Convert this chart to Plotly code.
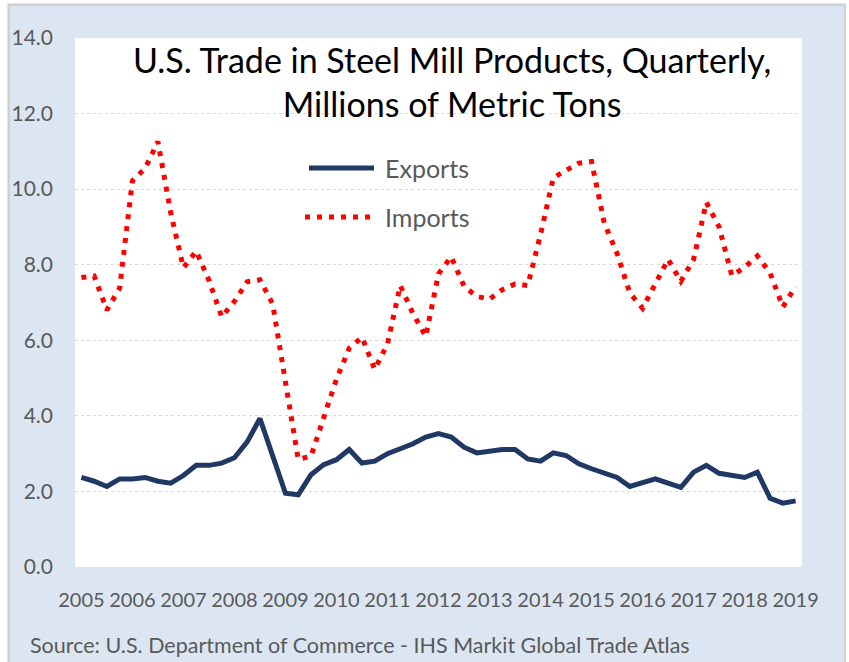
import plotly.graph_objects as go

# Quarterly, 2005 Q1 .. 2019 Q1 (57 quarters), millions of metric tons
years = list(range(2005, 2020))
quarters = [f"{y} Q{q}" for y in years for q in range(1, 5)][:57]

exports = [2.37, 2.27, 2.13, 2.33, 2.33, 2.37, 2.27, 2.22, 2.42, 2.69,
           2.69, 2.75, 2.89, 3.31, 3.93, 2.95, 1.95, 1.91, 2.44, 2.71,
           2.84, 3.11, 2.75, 2.80, 3.00, 3.13, 3.26, 3.44, 3.53, 3.44,
           3.17, 3.02, 3.08, 3.11, 3.11, 2.86, 2.80, 3.02, 2.95, 2.73,
           2.60, 2.48, 2.37, 2.13, 2.24, 2.33, 2.22, 2.11, 2.51, 2.69,
           2.48, 2.44, 2.37, 2.51, 1.82, 1.69, 1.75]

imports = [7.66, 7.70, 6.80, 7.38, 10.22, 10.55, 11.26, 9.38, 7.92, 8.36,
           7.59, 6.62, 7.03, 7.55, 7.60, 6.96, 4.90, 2.85, 2.93, 3.93,
           4.97, 5.79, 6.08, 5.23, 5.90, 7.45, 6.71, 6.10, 7.76, 8.21,
           7.43, 7.16, 7.09, 7.34, 7.49, 7.45, 8.80, 10.30, 10.50, 10.69,
           10.73, 9.10, 8.30, 7.25, 6.85, 7.47, 8.14, 7.56, 8.14, 9.65,
           9.00, 7.71, 7.93, 8.23, 7.78, 6.88, 7.43]

year_ticks = [str(y) for y in years]
y_ticks = [0, 2, 4, 6, 8, 10, 12, 14]

NAVY = "#1F3864"
RED = "#FF0000"
GREY_TXT = "#595959"
BG = "#DCE6F2"
FONT = "Lato"

# plot area in pixels (849 x 662 canvas)
L, R, T, B = 75, 802, 38, 567
W, H = 849, 662


def px_x(px):
    return (px - L) / (R - L)


def px_y(py):
    return (B - py) / (B - T)


x_idx = list(range(len(quarters)))

fig = go.Figure()

fig.add_trace(go.Scatter(
    x=x_idx, y=exports, mode="lines", name="Exports",
    line=dict(color=NAVY, width=5),
    text=quarters, hovertemplate="%{text}: %{y:.2f}<extra>Exports</extra>"
))
fig.add_trace(go.Scatter(
    x=x_idx, y=imports, mode="lines", name="Imports",
    line=dict(color=RED, width=5, dash="5px,7px"),
    text=quarters, hovertemplate="%{text}: %{y:.2f}<extra>Imports</extra>"
))

shapes = [
    # white margin outside the frame
    dict(type="rect", xref="paper", yref="paper", x0=px_x(-5), x1=px_x(7),
         y0=px_y(H + 5), y1=px_y(-5), fillcolor="white", line=dict(width=0)),
    dict(type="rect", xref="paper", yref="paper", x0=px_x(-5), x1=px_x(W + 5),
         y0=px_y(3), y1=px_y(-5), fillcolor="white", line=dict(width=0)),
    dict(type="rect", xref="paper", yref="paper", x0=px_x(846), x1=px_x(W + 5),
         y0=px_y(H + 5), y1=px_y(-5), fillcolor="white", line=dict(width=0)),
    # frame
    dict(type="rect", xref="paper", yref="paper", x0=px_x(9), x1=px_x(845),
         y0=px_y(700), y1=px_y(5), line=dict(color="#D0D0D0", width=2)),
    # legend samples
    dict(type="line", xref="paper", yref="paper", x0=px_x(309), x1=px_x(374),
         y0=px_y(168), y1=px_y(168), line=dict(color=NAVY, width=5)),
    dict(type="line", xref="paper", yref="paper", x0=px_x(305), x1=px_x(376),
         y0=px_y(217), y1=px_y(217), line=dict(color=RED, width=5, dash="5px,7px")),
]

annotations = [
    dict(text="U.S. Trade in Steel Mill Products, Quarterly,<br>Millions of Metric Tons",
         xref="paper", yref="paper", x=px_x(452), y=px_y(81),
         xanchor="center", yanchor="middle", showarrow=False,
         font=dict(family=FONT, size=34, color="black")),
    dict(text="Exports", xref="paper", yref="paper", x=px_x(383), y=px_y(168),
         xanchor="left", yanchor="middle", showarrow=False,
         font=dict(family=FONT, size=25, color=GREY_TXT)),
    dict(text="Imports", xref="paper", yref="paper", x=px_x(383), y=px_y(217),
         xanchor="left", yanchor="middle", showarrow=False,
         font=dict(family=FONT, size=25, color=GREY_TXT)),
    dict(text="Source: U.S. Department of Commerce - IHS Markit Global Trade Atlas",
         xref="paper", yref="paper", x=px_x(28), y=px_y(645),
         xanchor="left", yanchor="middle", showarrow=False,
         font=dict(family=FONT, size=21.5, color=GREY_TXT)),
]

fig.update_layout(
    width=W, height=H,
    margin=dict(l=L, r=W - R, t=T, b=H - B),
    paper_bgcolor=BG,
    plot_bgcolor="white",
    showlegend=False,
    shapes=shapes,
    annotations=annotations,
    font=dict(family=FONT, color=GREY_TXT),
)

fig.update_xaxes(
    range=[-0.5, len(quarters) - 0.5],
    tickvals=x_idx[::4], ticktext=year_ticks,
    showgrid=False, zeroline=False, showline=False, ticks="",
    tickfont=dict(family=FONT, size=20, color=GREY_TXT),
    ticklabelstandoff=19,
)
fig.update_yaxes(
    range=[0, 14],
    tickvals=y_ticks, tickformat=".1f",
    showgrid=True, gridcolor="#D9D9D9", gridwidth=1, griddash="dot",
    zeroline=False, showline=False, ticks="",
    tickfont=dict(family=FONT, size=21, color=GREY_TXT),
    ticklabelstandoff=21,
)

# page body has a default margin; drop it so the figure fills the window
fig.write_html(
    "out.html",
    config={"displayModeBar": False},
    post_script="document.body.style.margin='0';"
                "document.documentElement.style.overflow='hidden';",
)
